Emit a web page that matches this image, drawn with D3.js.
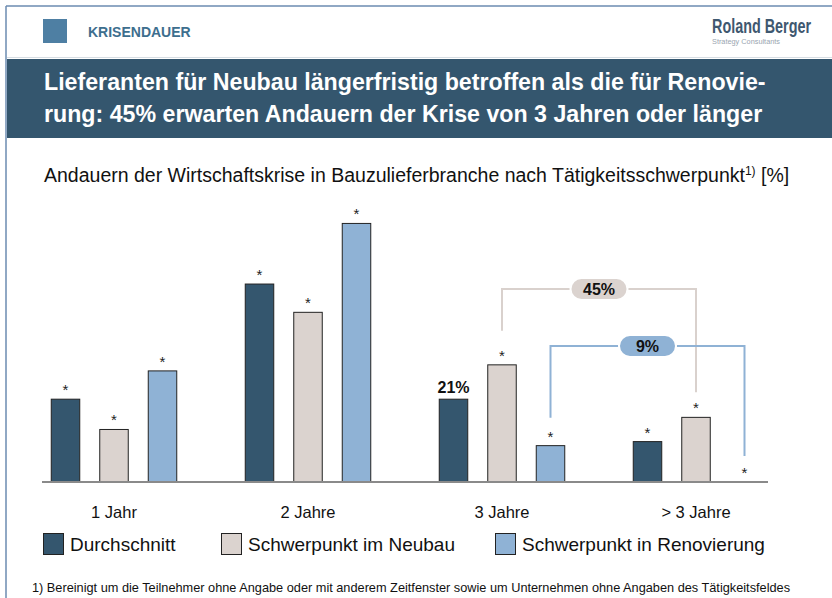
<!DOCTYPE html>
<html>
<head>
<meta charset="utf-8">
<script src="https://cdn.jsdelivr.net/npm/d3@7"></script>
<style>
  body { margin: 0; background: #fff; }
  svg text { font-family: "Liberation Sans", Arial, sans-serif; }
</style>
</head>
<body>
<div class="container"></div>
<script>
// data (values in %)
var categories = ["1 Jahr", "2 Jahre", "3 Jahre", "> 3 Jahre"];
var seriesNames = ["Durchschnitt", "Schwerpunkt im Neubau", "Schwerpunkt in Renovierung"];
var durchschnitt = [20.5, 49, 20.5, 10];
var neubau = [13, 42, 29, 16];
var renovierung = [27.5, 64, 9, 0];
var seriesColors = ["#34566e", "#dbd3cf", "#8fb2d5"];
// brackets: sum of the last two categories for one series
var brackets = [
    { series: 1, label: "45%", level: 289, gaps: [34, 25], color: "#d9d1cd", fill: "#dbd3cf" },
    { series: 2, label: "9%", level: 346, gaps: [28, 26], color: "#8fb2d5", fill: "#8fb2d5" }
];
var labeledBar = { cat: 2, series: 0 }; // "21%" instead of an asterisk

var width = 832, height = 598;
var baseline = 482;

var svg = d3.select(".container").append("svg")
    .attr("width", width)
    .attr("height", height);

// frame lines
svg.append("line").attr("x1", 6).attr("x2", 6).attr("y1", 6).attr("y2", height)
    .attr("stroke", "#6b8bb0").attr("stroke-width", 1.5);
svg.append("line").attr("x1", 6).attr("x2", width).attr("y1", 6).attr("y2", 6)
    .attr("stroke", "#6b8bb0").attr("stroke-width", 1.5);

// header
svg.append("rect").attr("x", 43).attr("y", 19).attr("width", 24).attr("height", 24).attr("fill", "#4e7fa3");
svg.append("text").attr("x", 88).attr("y", 36.5)
    .attr("font-size", 14).attr("font-weight", "bold").attr("fill", "#3d6e8e")
    .text("KRISENDAUER");

// logo
svg.append("text").attr("x", 712).attr("y", 33)
    .attr("font-size", 20).attr("font-weight", "bold").attr("fill", "#3f5870")
    .attr("textLength", 99).attr("lengthAdjust", "spacingAndGlyphs")
    .style("font-family", "'Liberation Sans Narrow', 'Liberation Sans', sans-serif")
    .text("Roland Berger");
svg.append("text").attr("x", 712).attr("y", 44)
    .attr("font-size", 8).attr("fill", "#9aa5b0")
    .attr("textLength", 68).attr("lengthAdjust", "spacingAndGlyphs")
    .text("Strategy Consultants");
svg.append("line").attr("x1", 7).attr("x2", width).attr("y1", 57.5).attr("y2", 57.5)
    .attr("stroke", "#d6dde3").attr("stroke-width", 1);

// title band
svg.append("rect").attr("x", 7).attr("y", 59).attr("width", width - 7).attr("height", 79).attr("fill", "#34566e");
var titleLines = ["Lieferanten für Neubau längerfristig betroffen als die für Renovie-",
    "rung: 45% erwarten Andauern der Krise von 3 Jahren oder länger"];
svg.append("g").selectAll("text")
    .data(titleLines)
    .enter()
    .append("text")
    .attr("x", 44)
    .attr("y", function (d, i) { return 90 + i * 32; })
    .attr("font-size", 23.2).attr("font-weight", "bold").attr("fill", "#fff")
    .text(function (d) { return d; });

// subtitle
var sub = svg.append("text").attr("x", 44).attr("y", 182).attr("font-size", 19.5).attr("fill", "#111");
sub.append("tspan").text("Andauern der Wirtschaftskrise in Bauzulieferbranche nach Tätigkeitsschwerpunkt");
sub.append("tspan").attr("font-size", 12).attr("dy", -7).text("1)");
sub.append("tspan").attr("dy", 7).text(" [%]");

// scales
var x0 = d3.scaleBand().domain(categories).range([17, 793]);
var x1 = d3.scalePoint().domain(seriesNames).range([-48.5, 48.5]);
var barW = 28.5;
var y = d3.scaleLinear().domain([0, 100]).range([baseline, baseline - 404]);

var values = [durchschnitt, neubau, renovierung];
var bars = [];
categories.forEach(function (c, ci) {
    seriesNames.forEach(function (s, si) {
        bars.push({ cat: c, ci: ci, series: s, si: si, value: values[si][ci] });
    });
});
function cx(ci, si) {
    return x0(categories[ci]) + x0.bandwidth() / 2 + x1(seriesNames[si]);
}

svg.append("g")
    .selectAll("rect")
    .data(bars.filter(function (d) { return d.value > 0; }))
    .enter()
    .append("rect")
    .attr("x", function (d) { return cx(d.ci, d.si) - barW / 2; })
    .attr("y", function (d) { return y(d.value); })
    .attr("width", barW)
    .attr("height", function (d) { return baseline - y(d.value); })
    .attr("fill", function (d) { return seriesColors[d.si]; })
    .attr("stroke", "#222")
    .attr("stroke-width", 1);

// asterisks / value label
svg.append("g")
    .selectAll("text")
    .data(bars)
    .enter()
    .append("text")
    .attr("x", function (d) { return cx(d.ci, d.si); })
    .attr("text-anchor", "middle")
    .each(function (d) {
        var t = d3.select(this);
        if (d.ci === labeledBar.cat && d.si === labeledBar.series) {
            t.attr("y", y(d.value) - 6).attr("font-size", 16).attr("font-weight", "bold")
                .attr("fill", "#111").text(Math.round(d.value) + "%");
        } else {
            t.attr("y", y(d.value) - 4).attr("font-size", 15).attr("fill", "#222").text("*");
        }
    });

// axis line
svg.append("line").attr("x1", 42).attr("x2", 768).attr("y1", baseline).attr("y2", baseline)
    .attr("stroke", "#8a8a8a").attr("stroke-width", 2);

var xAxis = svg.append("g")
    .attr("transform", "translate(0," + baseline + ")")
    .call(d3.axisBottom(x0).tickSize(0).tickPadding(24));
xAxis.select(".domain").remove();
xAxis.selectAll("text").attr("font-size", 16.5).attr("fill", "#111")
    .style("font-family", "'Liberation Sans', Arial, sans-serif");

// brackets
brackets.forEach(function (b) {
    var xa = cx(2, b.series), xb = cx(3, b.series);
    var ya = y(values[b.series][2]) - b.gaps[0];
    var yb = y(values[b.series][3]) - b.gaps[1];
    svg.append("path")
        .attr("d", "M" + xa + "," + ya + "V" + b.level + "H" + xb + "V" + yb)
        .attr("fill", "none").attr("stroke", b.color).attr("stroke-width", 2);
    var mx = (xa + xb) / 2;
    svg.append("rect").attr("x", mx - 28.5).attr("y", b.level - 11).attr("width", 57).attr("height", 22)
        .attr("rx", 11).attr("fill", b.fill).attr("stroke", "#fff").attr("stroke-width", 2);
    svg.append("text").attr("x", mx).attr("y", b.level + 6).attr("text-anchor", "middle")
        .attr("font-size", 16).attr("font-weight", "bold").attr("fill", "#111").text(b.label);
});

// legend
var legendX = [43, 221, 495];
var legend = svg.append("g").selectAll("g")
    .data(seriesNames)
    .enter()
    .append("g")
    .attr("transform", function (d, i) { return "translate(" + legendX[i] + ",533)"; });
legend.append("rect").attr("x", 0.5).attr("y", 0.5).attr("width", 20).attr("height", 21)
    .attr("fill", function (d, i) { return seriesColors[i]; })
    .attr("stroke", "#222").attr("stroke-width", 1);
legend.append("text").attr("x", 27).attr("y", 18).attr("font-size", 19).attr("fill", "#111")
    .text(function (d) { return d; });

// footnote
svg.append("text").attr("x", 32).attr("y", 592).attr("font-size", 13).attr("fill", "#111")
    .attr("textLength", 758).attr("lengthAdjust", "spacingAndGlyphs")
    .style("font-family", "'Liberation Sans Narrow', 'Liberation Sans', sans-serif")
    .text("1) Bereinigt um die Teilnehmer ohne Angabe oder mit anderem Zeitfenster sowie um Unternehmen ohne Angaben des Tätigkeitsfeldes");
</script>
</body>
</html>
